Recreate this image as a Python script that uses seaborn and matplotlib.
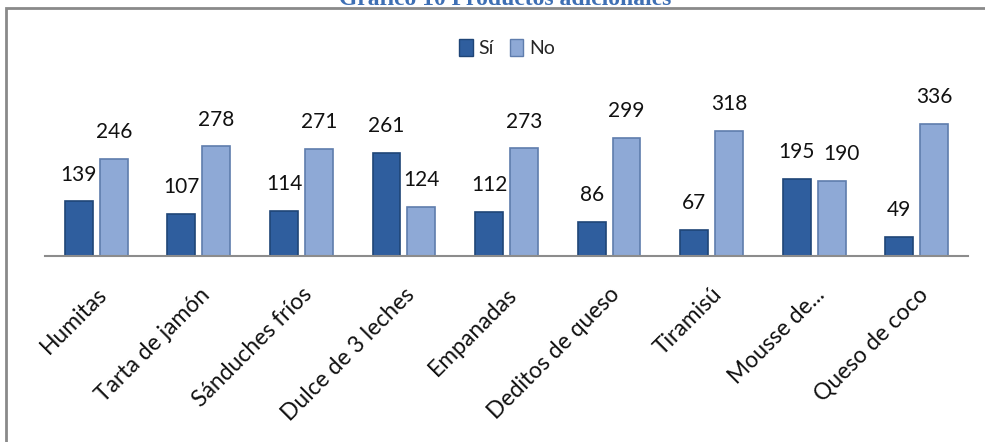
import matplotlib
matplotlib.use("Agg")
import matplotlib.pyplot as plt
import seaborn as sns
import pandas as pd
from matplotlib.patches import Rectangle

categories = ["Humitas", "Tarta de jamón", "Sánduches fríos", "Dulce de 3 leches",
              "Empanadas", "Deditos de queso", "Tiramisú", "Mousse de...", "Queso de coco"]
si_values = [139, 107, 114, 261, 112, 86, 67, 195, 49]
no_values = [246, 278, 271, 124, 273, 299, 318, 190, 336]
series = ["Sí", "No"]
title = "Gráfico 10 Productos adicionales"

df = pd.DataFrame({
    "Producto": categories * 2,
    "Respuesta": ["Sí"] * len(categories) + ["No"] * len(categories),
    "Valor": si_values + no_values,
})

sns.set_theme(style="white")
plt.rcParams["font.family"] = ["Lato", "DejaVu Sans"]

W, H = 985, 442
fig = plt.figure(figsize=(W / 100, H / 100), dpi=100)
ax = fig.add_axes([45 / W, 1 - 256 / H, (968 - 45) / W, (256 - 118) / H])

colors = {"Sí": "#2F5E9E", "No": "#8EA9D6"}
edges = {"Sí": "#1F4577", "No": "#5F7DAD"}
sns.barplot(data=df, x="Producto", y="Valor", hue="Respuesta", hue_order=series,
            palette=colors, width=0.68, gap=0.2, ax=ax, legend=False, saturation=1)

label_sets = []
for container, s in zip(ax.containers, series):
    for bar in container:
        bar.set_edgecolor(edges[s])
        bar.set_linewidth(1.2)
    label_sets.append(ax.bar_label(container, fmt="%d", padding=12, fontsize=15,
                                   color="#111111"))

ax.set_ylim(0, 350)
ax.set_xlim(-0.5, len(categories) - 0.5)
ax.set_xlabel("")
ax.set_ylabel("")
ax.set_yticks([])
for side in ["left", "right", "top"]:
    ax.spines[side].set_visible(False)
ax.spines["bottom"].set_color("#8c8c8c")
ax.spines["bottom"].set_linewidth(1.5)
ax.tick_params(axis="x", length=0, pad=20)
ax.set_xticks(range(len(categories)))
ax.set_xticklabels(categories, rotation=45, ha="right", va="top",
                   rotation_mode="anchor", fontsize=16.5, color="#111111")

# resolve overlapping data labels (shift the second label right, as the reference does)
fig.canvas.draw()
renderer = fig.canvas.get_renderer()
for a, b in zip(*label_sets):
    ba = a.get_window_extent(renderer)
    bb = b.get_window_extent(renderer)
    if ba.overlaps(bb):
        shift_px = ba.x1 - bb.x0 + 8
        dx, dy = b.xyann
        b.xyann = (dx + shift_px * 72 / 100, dy)

handles = [Rectangle((0, 0), 1, 1, facecolor=colors[s], edgecolor=edges[s]) for s in series]
fig.legend(handles, series, loc="center", bbox_to_anchor=(507 / W, 1 - 48 / H), ncol=2,
           frameon=False, fontsize=14, handlelength=0.7, handleheight=1.0,
           handletextpad=0.3, columnspacing=0.8)

# outer frame
fig.patches.append(Rectangle((6 / W, -0.1), 1.2, 1 - 8 / H + 0.1, transform=fig.transFigure,
                             fill=False, edgecolor="#8a8a8a", linewidth=2))

fig.text(505 / W, 1 - 5 / H, title, ha="center", va="baseline",
         fontsize=17, fontweight="bold", color="#3E6FB4",
         family=["Liberation Serif", "DejaVu Serif"])

fig.savefig("out.png", dpi=100)
